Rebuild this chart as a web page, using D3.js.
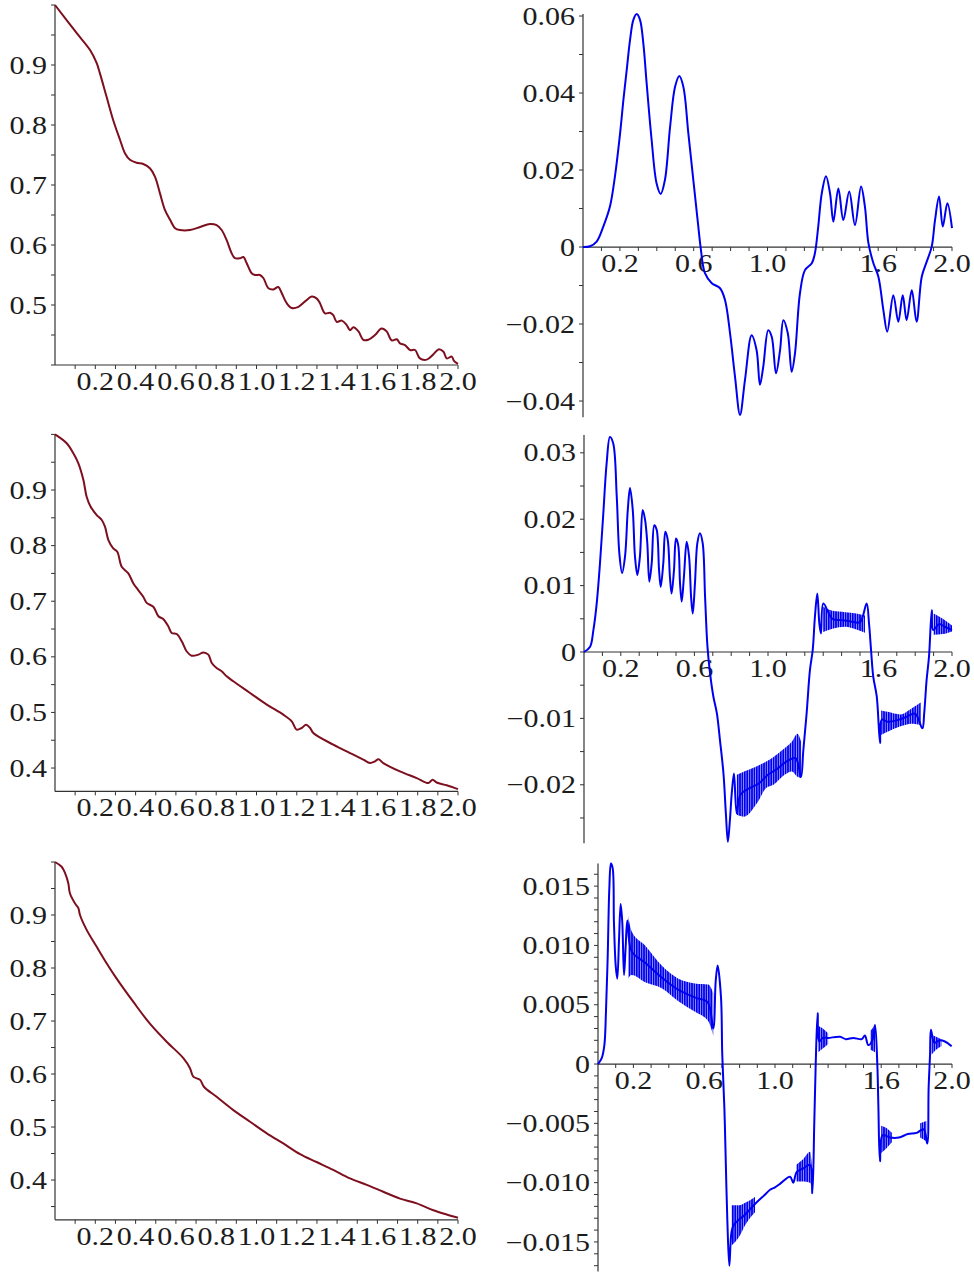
<!DOCTYPE html>
<html><head><meta charset="utf-8">
<script src="https://cdn.jsdelivr.net/npm/d3@7"></script>
<style>body{margin:0;background:#fff}svg{display:block}</style>
</head><body>
<svg id="c" width="974" height="1272"></svg>
<script>
// ---------- DATA ----------
const leftXLabels = [0.2,0.4,0.6,0.8,1.0,1.2,1.4,1.6,1.8,2.0];
const rightXLabels = [0.2,0.6,1.0,1.6,2.0];
const p1YLabels = [0.5,0.6,0.7,0.8,0.9];
const p3YLabels = [0.4,0.5,0.6,0.7,0.8,0.9];
const p5YLabels = [0.4,0.5,0.6,0.7,0.8,0.9];
const p2YLabels = [0.06,0.04,0.02,0,-0.02,-0.04];
const p4YLabels = [0.03,0.02,0.01,0,-0.01,-0.02];
const p6YLabels = [0.015,0.010,0.005,0,-0.005,-0.010,-0.015];

const p1Series = [[0,1.0],[0.108,0.953],[0.174,0.925],[0.207,0.903],[0.223,0.886],[0.256,0.847],[0.289,0.808],[0.323,0.775],[0.347,0.753],[0.372,0.742],[0.405,0.737],[0.438,0.735],[0.471,0.728],[0.496,0.714],[0.521,0.686],[0.546,0.658],[0.571,0.642],[0.596,0.628],[0.620,0.625],[0.670,0.625],[0.720,0.630],[0.769,0.635],[0.802,0.633],[0.827,0.625],[0.852,0.608],[0.877,0.586],[0.893,0.578],[0.918,0.578],[0.935,0.580],[0.951,0.570],[0.976,0.553],[0.993,0.550],[1.017,0.550],[1.034,0.545],[1.059,0.528],[1.084,0.526],[1.108,0.530],[1.125,0.520],[1.150,0.503],[1.175,0.495],[1.208,0.497],[1.241,0.506],[1.274,0.514],[1.298,0.511],[1.315,0.503],[1.340,0.486],[1.365,0.487],[1.381,0.483],[1.398,0.472],[1.423,0.474],[1.447,0.467],[1.464,0.458],[1.481,0.463],[1.506,0.456],[1.530,0.442],[1.555,0.442],[1.588,0.450],[1.621,0.461],[1.646,0.456],[1.671,0.441],[1.696,0.443],[1.712,0.436],[1.737,0.433],[1.762,0.425],[1.787,0.425],[1.811,0.411],[1.845,0.409],[1.878,0.418],[1.903,0.426],[1.928,0.422],[1.944,0.411],[1.969,0.414],[1.980,0.407],[2.0,0.402]];

const p3Series = [[0,1.0],[0.058,0.984],[0.091,0.966],[0.116,0.948],[0.141,0.918],[0.157,0.888],[0.177,0.870],[0.207,0.855],[0.232,0.846],[0.248,0.834],[0.265,0.810],[0.289,0.795],[0.309,0.789],[0.331,0.762],[0.364,0.750],[0.389,0.732],[0.413,0.720],[0.438,0.708],[0.455,0.697],[0.488,0.690],[0.513,0.673],[0.537,0.668],[0.562,0.655],[0.579,0.643],[0.604,0.641],[0.629,0.628],[0.653,0.610],[0.678,0.602],[0.712,0.604],[0.736,0.608],[0.761,0.604],[0.778,0.589],[0.802,0.580],[0.827,0.574],[0.852,0.565],[0.885,0.556],[0.968,0.535],[1.051,0.514],[1.133,0.496],[1.175,0.484],[1.199,0.469],[1.224,0.472],[1.246,0.478],[1.266,0.472],[1.282,0.463],[1.381,0.442],[1.464,0.427],[1.530,0.415],[1.563,0.409],[1.588,0.412],[1.605,0.416],[1.629,0.409],[1.712,0.394],[1.795,0.382],[1.853,0.373],[1.874,0.379],[1.894,0.374],[1.944,0.369],[2.0,0.362]];

const p5Series = [[0,1.0],[0.033,0.991],[0.050,0.979],[0.066,0.960],[0.074,0.941],[0.099,0.922],[0.116,0.913],[0.124,0.900],[0.157,0.872],[0.207,0.840],[0.256,0.809],[0.306,0.780],[0.389,0.736],[0.471,0.695],[0.554,0.661],[0.637,0.630],[0.670,0.611],[0.686,0.595],[0.720,0.589],[0.739,0.576],[0.802,0.557],[0.885,0.532],[0.968,0.510],[1.051,0.488],[1.133,0.469],[1.216,0.449],[1.298,0.434],[1.381,0.419],[1.464,0.403],[1.547,0.391],[1.629,0.378],[1.712,0.365],[1.795,0.356],[1.878,0.343],[1.944,0.335],[2.0,0.329]];

const p2Series = [[0,0],[0.038,0.0002],[0.074,0.0014],[0.110,0.0053],[0.146,0.0105],[0.173,0.0183],[0.201,0.0295],[0.219,0.0382],[0.237,0.0460],[0.255,0.0538],[0.273,0.0590],[0.291,0.0605],[0.309,0.0590],[0.327,0.0529],[0.345,0.0425],[0.372,0.0278],[0.399,0.0165],[0.421,0.0138],[0.444,0.0174],[0.472,0.0312],[0.499,0.0416],[0.522,0.0444],[0.544,0.0416],[0.571,0.0295],[0.598,0.0174],[0.625,0.0053],[0.638,-0.0003],[0.661,-0.0068],[0.698,-0.0094],[0.743,-0.0107],[0.770,-0.0138],[0.797,-0.0224],[0.824,-0.0337],[0.851,-0.0436],[0.878,-0.0345],[0.914,-0.0229],[0.941,-0.0268],[0.959,-0.0358],[0.977,-0.0311],[1.004,-0.0216],[1.023,-0.0233],[1.046,-0.0328],[1.068,-0.0268],[1.086,-0.0190],[1.110,-0.0224],[1.131,-0.0324],[1.149,-0.0276],[1.176,-0.0120],[1.203,-0.0060],[1.240,-0.0042],[1.257,-0.0016],[1.275,0.0053],[1.294,0.0139],[1.317,0.0184],[1.339,0.0139],[1.357,0.0066],[1.384,0.0152],[1.411,0.0070],[1.443,0.0144],[1.474,0.0057],[1.507,0.0157],[1.528,0.0105],[1.547,0.0010],[1.574,-0.0042],[1.601,-0.0077],[1.628,-0.0164],[1.649,-0.0220],[1.682,-0.0125],[1.709,-0.0194],[1.733,-0.0125],[1.754,-0.0190],[1.782,-0.0112],[1.808,-0.0194],[1.836,-0.0077],[1.863,-0.0038],[1.890,0.0001],[1.908,0.0070],[1.930,0.0131],[1.950,0.0053],[1.975,0.0114],[2.0,0.0049]];

const p4Series = [[0,0],[0.033,0.0008],[0.051,0.0033],[0.069,0.0073],[0.087,0.0134],[0.105,0.0209],[0.123,0.0284],[0.141,0.0324],[0.159,0.0314],[0.178,0.0234],[0.192,0.0149],[0.207,0.0119],[0.223,0.0144],[0.238,0.0214],[0.250,0.0247],[0.265,0.0214],[0.277,0.0144],[0.290,0.0116],[0.304,0.0144],[0.319,0.0214],[0.332,0.0199],[0.344,0.0164],[0.355,0.0106],[0.368,0.0134],[0.382,0.0191],[0.395,0.0184],[0.408,0.0123],[0.417,0.0098],[0.431,0.0134],[0.442,0.0181],[0.455,0.0169],[0.467,0.0113],[0.476,0.0088],[0.489,0.0123],[0.500,0.0171],[0.512,0.0161],[0.522,0.0103],[0.531,0.0076],[0.543,0.0113],[0.558,0.0166],[0.571,0.0144],[0.582,0.0083],[0.591,0.0058],[0.603,0.0103],[0.616,0.0164],[0.630,0.0179],[0.645,0.0164],[0.658,0.0083],[0.671,0.0008],[0.685,-0.0032],[0.703,-0.0067],[0.722,-0.0092],[0.739,-0.0133],[0.758,-0.0183],[0.771,-0.0243],[0.782,-0.0286],[0.793,-0.0253],[0.803,-0.0213],[0.815,-0.0183],[0.830,-0.0243],[0.85,-0.0215],[0.90,-0.0205],[0.95,-0.0198],[1.00,-0.0185],[1.05,-0.0176],[1.10,-0.0165],[1.15,-0.0160],[1.179,-0.0188],[1.192,-0.0148],[1.210,-0.0092],[1.228,-0.0027],[1.243,0.0003],[1.255,0.0053],[1.268,0.0088],[1.279,0.0043],[1.288,0.0028],[1.301,0.0073],[1.35,0.0050],[1.40,0.0048],[1.45,0.0046],[1.50,0.0045],[1.536,0.0073],[1.549,0.0043],[1.560,0.0003],[1.572,-0.0037],[1.591,-0.0067],[1.609,-0.0137],[1.618,-0.0102],[1.65,-0.0105],[1.70,-0.0103],[1.75,-0.0098],[1.80,-0.0093],[1.839,-0.0115],[1.849,-0.0092],[1.862,-0.0042],[1.875,-0.0007],[1.890,0.0063],[1.898,0.0033],[1.93,0.0042],[1.96,0.0038],[2.0,0.0033]];
// oscillation envelopes [x, low, high]
const p4Bands = [
  [[0.83,-0.0245,-0.0185],[0.87,-0.0248,-0.0180],[0.94,-0.0228,-0.0172],[0.99,-0.0205,-0.0165],[1.03,-0.0200,-0.0158],[1.09,-0.0185,-0.0145],[1.13,-0.0180,-0.0135],[1.16,-0.0188,-0.0123],[1.18,-0.0190,-0.0135]],
  [[1.30,0.0030,0.0068],[1.35,0.0035,0.0062],[1.42,0.0038,0.0060],[1.48,0.0034,0.0058],[1.527,0.0029,0.0055]],
  [[1.615,-0.0125,-0.0088],[1.65,-0.0120,-0.0090],[1.72,-0.0112,-0.0094],[1.78,-0.0108,-0.0085],[1.83,-0.0110,-0.0076]],
  [[1.90,0.0026,0.0058],[1.95,0.0027,0.0050],[2.0,0.0031,0.0040]]
];

const p6Series = [[0,0],[0.021,0.0005],[0.036,0.0016],[0.045,0.0044],[0.055,0.0092],[0.064,0.0148],[0.073,0.0169],[0.083,0.0165],[0.090,0.0120],[0.100,0.0083],[0.109,0.0072],[0.119,0.0106],[0.128,0.0135],[0.137,0.0120],[0.147,0.0075],[0.156,0.0098],[0.166,0.0121],[0.19,0.0095],[0.27,0.0085],[0.36,0.0073],[0.45,0.0063],[0.55,0.0056],[0.62,0.0052],[0.651,0.0030],[0.665,0.0070],[0.676,0.0083],[0.695,0.0056],[0.702,0.0008],[0.714,-0.0037],[0.721,-0.0077],[0.731,-0.0133],[0.742,-0.0170],[0.755,-0.0141],[0.77,-0.0135],[0.83,-0.0127],[0.887,-0.0118],[0.944,-0.0110],[0.972,-0.0106],[1.0,-0.0104],[1.028,-0.0101],[1.085,-0.0095],[1.103,-0.0100],[1.123,-0.0091],[1.16,-0.0088],[1.198,-0.0085],[1.211,-0.0109],[1.222,-0.0049],[1.230,0],[1.241,0.0043],[1.250,0.0019],[1.27,0.0022],[1.30,0.0022],[1.367,0.0023],[1.40,0.0021],[1.442,0.0022],[1.49,0.0021],[1.508,0.0024],[1.527,0.0016],[1.55,0.0020],[1.565,0.0033],[1.578,0],[1.584,-0.0035],[1.593,-0.0082],[1.608,-0.0060],[1.65,-0.0062],[1.70,-0.0062],[1.75,-0.0059],[1.80,-0.0058],[1.84,-0.0055],[1.860,-0.0067],[1.868,-0.0020],[1.876,0.0008],[1.881,0.0029],[1.90,0.0018],[1.93,0.0020],[1.96,0.0019],[1.998,0.0015]];
const p6Bands = [
  [[0.17,0.0072,0.0125],[0.19,0.0075,0.0112],[0.266,0.0069,0.0100],[0.36,0.0064,0.0083],[0.454,0.0053,0.0072],[0.548,0.0044,0.0068],[0.623,0.0036,0.0067],[0.651,0.0024,0.0060]],
  [[0.755,-0.0153,-0.0119],[0.80,-0.0145,-0.0119],[0.831,-0.0136,-0.0117],[0.887,-0.0125,-0.0112]],
  [[1.12,-0.0099,-0.0085],[1.16,-0.0099,-0.0080],[1.198,-0.0100,-0.0074],[1.211,-0.0109,-0.0090]],
  [[1.245,0.0010,0.0032],[1.27,0.0013,0.0030],[1.30,0.0017,0.0026]],
  [[1.54,0.0012,0.0028],[1.565,0.0010,0.0033]],
  [[1.60,-0.0075,-0.0052],[1.63,-0.0071,-0.0054],[1.66,-0.0066,-0.0058]],
  [[1.82,-0.0062,-0.0050],[1.855,-0.0065,-0.0048]],
  [[1.885,0.0008,0.0025],[1.91,0.0012,0.0023],[1.94,0.0015,0.0021]]
];

// ---------- LAYOUT ----------
const RED = "#7d0f1e", BLUE = "#0000f0";
const panels = [
  {series:p1Series, bands:[], color:RED, x0:55, x1:458, yDom:[0.4,1.0], yRange:[365,5], axisVal:0.4, xLabels:leftXLabels, yLabels:p1YLabels, yMinor:0.05, fmt:d3.format(".1f")},
  {series:p2Series, bands:[], color:BLUE, x0:583, x1:952, yDom:[-0.0442,0.0605], yRange:[417.2,14.1], axisVal:0, xLabels:rightXLabels, yLabels:p2YLabels, yMinor:0.01, fmt:d3.format(".2f")},
  {series:p3Series, bands:[], color:RED, x0:55, x1:458, yDom:[0.358,1.0], yRange:[791.4,434.4], axisVal:0.358, xLabels:leftXLabels, yLabels:p3YLabels, yMinor:0.05, fmt:d3.format(".1f")},
  {series:p4Series, bands:p4Bands, color:BLUE, x0:584, x1:952, yDom:[-0.0288,0.0327], yRange:[843.2,434.9], axisVal:0, xLabels:rightXLabels, yLabels:p4YLabels, yMinor:0.005, fmt:d3.format(".2f")},
  {series:p5Series, bands:[], color:RED, x0:55, x1:458, yDom:[0.325,1.0], yRange:[1219.8,862], axisVal:0.325, xLabels:leftXLabels, yLabels:p5YLabels, yMinor:0.05, fmt:d3.format(".1f")},
  {series:p6Series, bands:p6Bands, color:BLUE, x0:598, x1:952, yDom:[-0.0175,0.0169], yRange:[1271.6,863.6], axisVal:0, xLabels:rightXLabels, yLabels:p6YLabels, yMinor:0.001, fmt:d3.format(".3f")}
];

const svg = d3.select("#c");
const FONT = "'Liberation Serif','Times New Roman',serif";
const FS = 25, SX = 1.2;
const AX = "#333";

// vertical-stripe pattern to render the dense oscillation bands
const defs = svg.append("defs");
const pat = defs.append("pattern").attr("id", "osc").attr("patternUnits", "userSpaceOnUse")
  .attr("width", 2.4).attr("height", 20);
pat.append("rect").attr("x", 0).attr("y", 0).attr("width", 1.9).attr("height", 20).attr("fill", BLUE);

function label(g, txt, x, y, anchor, baseline) {
  g.append("text")
    .attr("transform", `translate(${x},${y}) scale(${SX},1)`)
    .attr("text-anchor", anchor)
    .attr("dominant-baseline", baseline || "auto")
    .attr("font-family", FONT).attr("font-size", FS)
    .attr("fill", "#1c1c1c")
    .text(txt);
}

panels.forEach(p => {
  const x = d3.scaleLinear().domain([0, 2]).range([p.x0, p.x1]);
  const y = d3.scaleLinear().domain(p.yDom).range(p.yRange);
  const g = svg.append("g");
  const ay = y(p.axisVal);
  // axes
  g.append("line").attr("x1", x(0)).attr("x2", x(2)).attr("y1", ay).attr("y2", ay).attr("stroke", AX).attr("stroke-width", 1.2);
  g.append("line").attr("x1", x(0)).attr("x2", x(0)).attr("y1", y(p.yDom[0])).attr("y2", y(p.yDom[1])).attr("stroke", AX).attr("stroke-width", 1.2);
  // x ticks every 0.1
  d3.range(1, 21).map(i => i / 10).forEach(v => {
    g.append("line").attr("x1", x(v)).attr("x2", x(v)).attr("y1", ay).attr("y2", ay + 4).attr("stroke", AX).attr("stroke-width", 1);
  });
  // y minor ticks
  const lo = Math.ceil(p.yDom[0] / p.yMinor - 1e-9), hi = Math.floor(p.yDom[1] / p.yMinor + 1e-9);
  d3.range(lo, hi + 1).forEach(i => {
    const v = i * p.yMinor;
    g.append("line").attr("x1", x(0) - 4).attr("x2", x(0)).attr("y1", y(v)).attr("y2", y(v)).attr("stroke", AX).attr("stroke-width", 1);
  });
  // labels
  p.xLabels.forEach(v => label(g, v.toFixed(1), x(v), ay + 25, "middle"));
  p.yLabels.forEach(v => {
    const t = v === 0 ? "0" : p.fmt(v).replace("-", "\u2212");
    label(g, t, x(0) - 8, y(v), "end", "central");
  });
  // oscillation bands
  const area = d3.area().x(d => x(d[0])).y0(d => y(d[1])).y1(d => y(d[2])).curve(d3.curveMonotoneX);
  p.bands.forEach(b => {
    g.append("path").attr("d", area(b)).attr("fill", "url(#osc)");
  });
  // curve
  const line = d3.line().x(d => x(d[0])).y(d => y(d[1])).curve(d3.curveCatmullRom.alpha(0.5));
  g.append("path").attr("d", line(p.series)).attr("fill", "none").attr("stroke", p.color).attr("stroke-width", 2).attr("stroke-linejoin", "round");
});
</script>
</body></html>
